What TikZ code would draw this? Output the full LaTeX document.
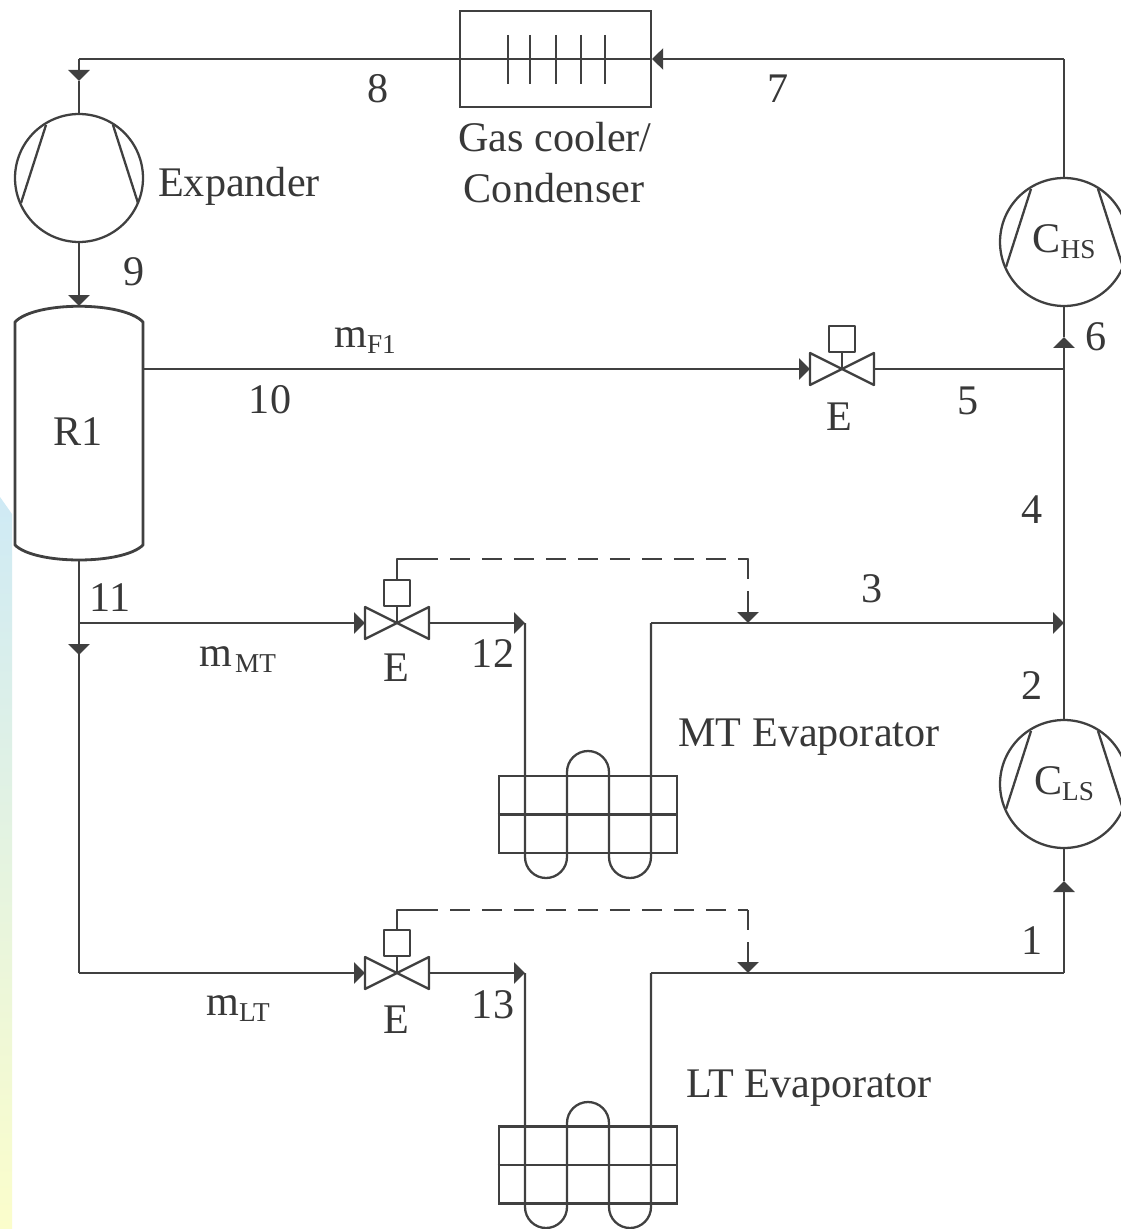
\documentclass[tikz,border=0pt]{standalone}
\usepackage{fontspec}
\setmainfont{Liberation Serif}
\usetikzlibrary{arrows.meta,calc}
\definecolor{ink}{HTML}{404040}
\definecolor{txt}{HTML}{383838}
\definecolor{stripA}{HTML}{CFEAF5}
\definecolor{stripB}{HTML}{FBFDCB}
\newcommand{\sbs}[1]{\raisebox{-0.14em}{\fontsize{15.5}{17}\selectfont #1}}
\tikzset{
  x=0.02cm,y=-0.02cm,
  wire/.style={draw=ink,line width=1.6pt,line join=round},
  thinwire/.style={draw=ink,line width=1.3pt,line join=round},
  flow/.style={wire,-{Triangle[length=0.22cm,width=0.42cm]}},
  thinflow/.style={thinwire,-{Triangle[length=0.22cm,width=0.42cm]}},
  dashwire/.style={thinwire,dash pattern=on 0.4cm off 0.24cm},
  lbl/.style={inner sep=0pt,text=txt,font=\fontsize{24}{26}\selectfont},
  comp/.style={circle,draw=ink,line width=1.3pt,minimum size=2.56cm,inner sep=0pt,text=txt,font=\fontsize{24}{26}\selectfont},
  valve/.pic={
    \draw[thinwire] (-32,-16) -- (-32,16) -- (32,-16) -- (32,16) -- cycle;
    \coordinate (-l) at (-32,0);
    \coordinate (-r) at (32,0);
    \coordinate (-c) at (0,0);
    \coordinate (-t) at (0,-43);
    \draw[thinwire] (-13,-43) rectangle (13,-17);
    \draw[thinwire] (0,-17) -- (0,0);
  },
  finbox/.style={rectangle,draw=ink,line width=1.6pt,minimum width=3.56cm,minimum height=1.54cm,inner sep=0pt},
}
\newcommand{\chords}[1]{%
  \draw[thinwire] ($(#1)+(-33,-53)$) -- ($(#1)+(-58,25)$);
  \draw[thinwire] ($(#1)+(34,-53)$) -- ($(#1)+(59,25)$);
}
\begin{document}
\begin{tikzpicture}
\useasboundingbox (0,0) rectangle (1120,1229);
\fill[white] (0,0) rectangle (1120,1229);
\shade[top color=stripA,bottom color=stripB] (0,497) -- (12,514) -- (12,1229) -- (0,1229) -- cycle;

% components
\node[comp] (exp) at (79,178) {};
\chords{exp}
\node[comp] (chs) at (1064,242) {C\sbs{HS}};
\chords{chs}
\node[comp] (cls) at (1064,784) {C\sbs{LS}};
\chords{cls}

\draw[wire] (15,322) .. controls (35,301) and (123,301) .. (143,322) -- (143,545)
  .. controls (123,565) and (35,565) .. (15,545) -- cycle;
\coordinate (rtop) at (79,306);
\coordinate (rbot) at (79,560);
\coordinate (rout) at (143,369);

\node[rectangle,draw=ink,line width=1.3pt,minimum width=3.82cm,minimum height=1.92cm,inner sep=0pt] (gc) at (555.5,59) {};
\foreach \tx in {508,530,556,581,605} \draw[thinwire] (\tx,35) -- (\tx,84);

\pic (vf) at (842,369) {valve};
\pic (vm) at (397,623) {valve};
\pic (vl) at (397,973) {valve};

\node[finbox] (mtbox) at (588,814.5) {};
\node[finbox] (ltbox) at (588,1165) {};
\draw[thinwire] (mtbox.west) -- (mtbox.east);
\draw[thinwire] (ltbox.west) -- (ltbox.east);

% junction coordinates
\coordinate (tr) at (1064,59);
\coordinate (tl) at (79,59);
\coordinate (a8) at (79,81);
\coordinate (a6) at (1064,337);
\coordinate (j5) at (1064,369);
\coordinate (j3) at (1064,623);
\coordinate (j11) at (79,623);
\coordinate (a11) at (79,655);
\coordinate (bl) at (79,973);
\coordinate (br) at (1064,973);
\coordinate (a1) at (1064,881);
\coordinate (mhead) at (525,623);
\coordinate (lhead) at (525,973);
\coordinate (mout) at (651,623);
\coordinate (lout) at (651,973);
\coordinate (mtap) at (748,623);
\coordinate (ltap) at (748,973);
\coordinate (mdc) at (748,559);
\coordinate (ldc) at (748,910);
\coordinate (mds) at (418,559);
\coordinate (lds) at (418,910);
\coordinate (mdk) at (397,559);
\coordinate (ldk) at (397,910);

% upper loop
\draw[wire] (chs.north) -- (tr);
\draw[flow] (tr) -- (gc.east);
\draw[wire] (gc.east) -- (tl);
\draw[flow] (tl) -- (a8);
\draw[wire] (a8) -- (exp.north);
\draw[flow] (exp.south) -- (rtop);

% flash line
\draw[flow] (rout) -- (vf-l);
\draw[wire] (vf-r) -- (j5);
\draw[flow] (cls.north) -- (a6);
\draw[wire] (a6) -- (chs.south);

% receiver outlet
\draw[wire] (rbot) -- (a11);
\draw[wire] (a11) -- (bl);
\draw[thinflow] (j11) -- (vm-l);
\draw[flow] (j11) -- (a11);
\draw[flow] (bl) -- (vl-l);

% MT evaporator
\draw[thinflow] (vm-r) -- (mhead);
\draw[thinwire] (mhead) -- (525,857) arc[start angle=180,end angle=360,radius=0.42cm]
  -- (567,772) arc[start angle=180,end angle=0,radius=0.42cm]
  -- (609,857) arc[start angle=180,end angle=360,radius=0.42cm] -- (mout);
\draw[wire] (mout) -- (mtap);
\draw[thinflow] (mtap) -- (j3);
\draw[thinwire] (vm-t) -- (mdk) -- (mds);
\draw[dashwire] (mds) -- (mdc) -- (739,559);
\draw[dashwire] (mdc) -- (748,610);
\draw[thinflow] (748,608) -- (mtap);

% LT evaporator
\draw[thinflow] (vl-r) -- (lhead);
\draw[thinwire] (lhead) -- (525,1207) arc[start angle=180,end angle=360,radius=0.42cm]
  -- (567,1123) arc[start angle=180,end angle=0,radius=0.42cm]
  -- (609,1207) arc[start angle=180,end angle=360,radius=0.42cm] -- (lout);
\draw[wire] (lout) -- (ltap) -- (br);
\draw[flow] (br) -- (a1);
\draw[wire] (a1) -- (cls.south);
\draw[thinwire] (vl-t) -- (ldk) -- (lds);
\draw[dashwire] (lds) -- (ldc);
\draw[dashwire] (ldc) -- (748,960);
\draw[thinflow] (748,958) -- (ltap);

% labels
\node[lbl] (l8) at (378,89) {8};
\node[lbl] (l7) at (778,89) {7};
\node[lbl] (lgc) at (555,137) {Gas cooler/};
\node[lbl] (lcd) at (554,188) {Condenser};
\node[lbl] (lex) at (239,186) {Expander};
\node[lbl] (l9) at (134,272) {9};
\node[lbl] (lf1) at (365,341) {m\sbs{F1}};
\node[lbl] (l10) at (270,400) {10};
\node[lbl] (lr1) at (78,432) {R1};
\node[lbl] (le1) at (839,417) {E};
\node[lbl] (l5) at (968,401) {5};
\node[lbl] (l6) at (1096,337) {6};
\node[lbl] (l4) at (1032,510) {4};
\node[lbl] (l3) at (872,589) {3};
\node[lbl] (l11) at (110,598) {11};
\node[lbl] (lmm) at (238,660) {m\kern0.06em\sbs{MT}};
\node[lbl] (le2) at (396,668) {E};
\node[lbl] (l12) at (493,654) {12};
\node[lbl] (lmt) at (809,737) {MT Evaporator};
\node[lbl] (l2) at (1032,686) {2};
\node[lbl] (l1) at (1032,941) {1};
\node[lbl] (lml) at (238,1009) {m\sbs{LT}};
\node[lbl] (le3) at (396,1020) {E};
\node[lbl] (l13) at (493,1005) {13};
\node[lbl] (llt) at (809,1088) {LT Evaporator};
\end{tikzpicture}
\end{document}
